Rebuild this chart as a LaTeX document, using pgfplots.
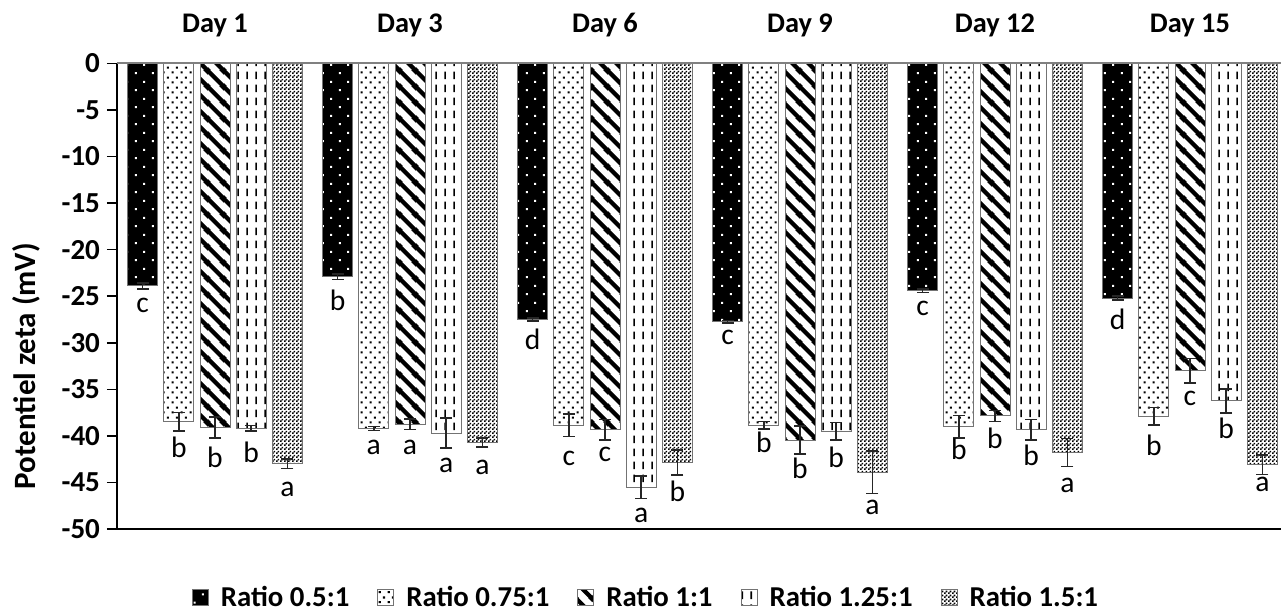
\documentclass[border=0pt]{standalone}
\usepackage{fontspec}
\setmainfont{Carlito}
\usepackage{pgfplots}
\pgfplotsset{compat=1.18}
\usepackage{pgfplotstable}
\usetikzlibrary{patterns}

\pgfdeclarepatternformonly{wdots}{\pgfqpoint{0pt}{0pt}}{\pgfqpoint{8.33pt}{8.33pt}}{\pgfqpoint{8.33pt}{8.33pt}}{%
 \pgfpathrectangle{\pgfqpoint{1pt}{1pt}}{\pgfqpoint{1pt}{1pt}}%
 \pgfpathrectangle{\pgfqpoint{5.17pt}{5.17pt}}{\pgfqpoint{1pt}{1pt}}%
 \pgfusepath{fill}}
\pgfdeclarepatternformonly{bdots}{\pgfqpoint{0pt}{0pt}}{\pgfqpoint{4.5pt}{5pt}}{\pgfqpoint{4.5pt}{5pt}}{%
 \pgfpathrectangle{\pgfqpoint{0.4pt}{0.4pt}}{\pgfqpoint{1.1pt}{1.1pt}}%
 \pgfpathrectangle{\pgfqpoint{2.65pt}{2.9pt}}{\pgfqpoint{1.1pt}{1.1pt}}%
 \pgfusepath{fill}}
\pgfdeclarepatternformonly{thickstripes}{\pgfqpoint{0pt}{0pt}}{\pgfqpoint{8pt}{8pt}}{\pgfqpoint{8pt}{8pt}}{%
 \pgfsetlinewidth{2.2pt}%
 \pgfpathmoveto{\pgfqpoint{-2pt}{2pt}}\pgfpathlineto{\pgfqpoint{2pt}{-2pt}}%
 \pgfpathmoveto{\pgfqpoint{-1pt}{9pt}}\pgfpathlineto{\pgfqpoint{9pt}{-1pt}}%
 \pgfpathmoveto{\pgfqpoint{6pt}{10pt}}\pgfpathlineto{\pgfqpoint{10pt}{6pt}}%
 \pgfusepath{stroke}}
\pgfdeclarepatternformonly{vdashes}{\pgfqpoint{0pt}{0pt}}{\pgfqpoint{4.5pt}{6.5pt}}{\pgfqpoint{4.5pt}{6.5pt}}{%
 \pgfpathrectangle{\pgfqpoint{1.85pt}{1pt}}{\pgfqpoint{0.9pt}{4pt}}%
 \pgfusepath{fill}}
\pgfdeclarepatternformonly{checker}{\pgfqpoint{0pt}{0pt}}{\pgfqpoint{2pt}{2pt}}{\pgfqpoint{2pt}{2pt}}{%
 \pgfpathrectangle{\pgfqpoint{0pt}{0pt}}{\pgfqpoint{1pt}{1pt}}%
 \pgfpathrectangle{\pgfqpoint{1pt}{1pt}}{\pgfqpoint{1pt}{1pt}}%
 \pgfusepath{fill}}

\pgfplotstableread{
x y e ly l
0 -23.9 0.3 -26.7 c
1 -22.9 0.3 -26.5 b
2 -27.5 0.15 -30.7 d
3 -27.75 0.15 -30.2 c
4 -24.4 0.2 -27.1 c
5 -25.2 0.2 -28.6 d
}\serA
\pgfplotstableread{
x y e ly l
0 -38.5 1.0 -42.3 b
1 -39.2 0.2 -41.95 a
2 -38.85 1.2 -43.2 c
3 -38.85 0.4 -41.8 b
4 -39.0 1.2 -42.5 b
5 -37.9 0.95 -42.1 b
}\serB
\pgfplotstableread{
x y e ly l
0 -39.1 1.15 -43.4 b
1 -38.75 0.55 -41.95 a
2 -39.35 1.1 -42.7 c
3 -40.45 1.5 -44.6 b
4 -37.85 0.6 -41.35 b
5 -33.0 1.3 -36.7 c
}\serC
\pgfplotstableread{
x y e ly l
0 -39.2 0.3 -42.85 b
1 -39.7 1.6 -43.9 a
2 -45.5 1.2 -49.3 a
3 -39.5 0.95 -43.4 b
4 -39.35 1.1 -43.2 b
5 -36.25 1.3 -40.3 b
}\serD
\pgfplotstableread{
x y e ly l
0 -43.0 0.5 -46.5 a
1 -40.7 0.5 -44.1 a
2 -42.85 1.35 -47.0 b
3 -43.9 2.3 -48.4 a
4 -41.8 1.5 -46.1 a
5 -43.1 1.05 -46.0 a
}\serE

\pgfplotsset{
  mybar/.style={ybar, bar width=15pt, bar shift=0pt, draw=black!55, line width=0.5pt,
    legend image code/.code={\draw[##1, draw=black!55, line width=0.5pt] (0pt,-4pt) rectangle (8pt,4pt);},
    error bars/y dir=both, error bars/y explicit,
    error bars/error bar style={black!85, line width=0.75pt},
    error bars/error mark options={rotate=90, mark size=3pt, black!85, line width=0.75pt}},
  letters/.style={forget plot, only marks, mark=none, nodes near coords, point meta=explicit symbolic,
    every node near coord/.append style={anchor=base, font=\fontsize{14.8}{17}\selectfont, inner sep=0pt}},
}

\begin{document}
\begin{tikzpicture}
\begin{axis}[
  scale only axis, width=585.25pt, height=232.75pt,
  xmin=-0.5026, xmax=5.5, ymin=-50, ymax=0,
  clip=false,
  axis line style={draw=none},
  xtick={0,...,5}, xticklabels={Day 1,Day 3,Day 6,Day 9,Day 12,Day 15},
  xticklabel pos=right, xtick style={draw=none},
  xticklabel style={anchor=base, yshift=10.25pt, font=\bfseries\fontsize{14.2}{16}\selectfont},
  ytick={-50,-45,...,0},
  yticklabels={-50,-45,-40,-35,-30,-25,-20,-15,-10,-5,0},
  ytick pos=left, ytick style={black, line width=0.75pt}, tick align=outside, major tick length=5pt,
  yticklabel style={font=\bfseries\fontsize{14.5}{17}\selectfont},
  ylabel={Potentiel zeta (mV)},
  ylabel style={font=\bfseries\fontsize{15.5}{18}\selectfont, at={(axis description cs:-0.0777,0.35)}, anchor=center},
  legend style={draw=none, at={(0.4528,-0.148)}, anchor=center, legend columns=5,
    font=\bfseries\fontsize{14.4}{16}\selectfont, inner sep=1pt,
    /tikz/every odd column/.append style={column sep=4pt},
    /tikz/every even column/.append style={column sep=12pt}},
  legend cell align=left,
]
\addplot[mybar, fill=black, postaction={pattern=wdots, pattern color=white}] table[x expr=\thisrow{x}-0.3713,y=y,y error=e]{\serA};
\addlegendentry{Ratio 0.5:1}
\addplot[mybar, fill=white, postaction={pattern=bdots, pattern color=black}] table[x expr=\thisrow{x}-0.1856,y=y,y error=e]{\serB};
\addlegendentry{Ratio 0.75:1}
\addplot[mybar, fill=white, postaction={pattern=thickstripes, pattern color=black}] table[x=x,y=y,y error=e]{\serC};
\addlegendentry{Ratio 1:1}
\addplot[mybar, fill=white, postaction={pattern=vdashes, pattern color=black}] table[x expr=\thisrow{x}+0.1856,y=y,y error=e]{\serD};
\addlegendentry{Ratio 1.25:1}
\addplot[mybar, fill=white, postaction={pattern=checker, pattern color=black}] table[x expr=\thisrow{x}+0.3713,y=y,y error=e]{\serE};
\addlegendentry{Ratio 1.5:1}

\addplot[letters] table[x expr=\thisrow{x}-0.3713,y=ly,meta=l]{\serA};
\addplot[letters] table[x expr=\thisrow{x}-0.1856,y=ly,meta=l]{\serB};
\addplot[letters] table[x=x,y=ly,meta=l]{\serC};
\addplot[letters] table[x expr=\thisrow{x}+0.1856,y=ly,meta=l]{\serD};
\addplot[letters] table[x expr=\thisrow{x}+0.3713,y=ly,meta=l]{\serE};

\draw[black, line width=1pt] (rel axis cs:0,0) -- (rel axis cs:0,1);
\draw[black, line width=1pt] (rel axis cs:0,0) -- (rel axis cs:1,0);
\draw[black!50, line width=1pt] (rel axis cs:0,1) -- (rel axis cs:1,1);
\end{axis}
\pgfresetboundingbox
\path ([shift={(-58.5pt,-42.5pt)}]current axis.south west) rectangle ([shift={(582pt,264.5pt)}]current axis.south west);
\end{tikzpicture}
\end{document}
